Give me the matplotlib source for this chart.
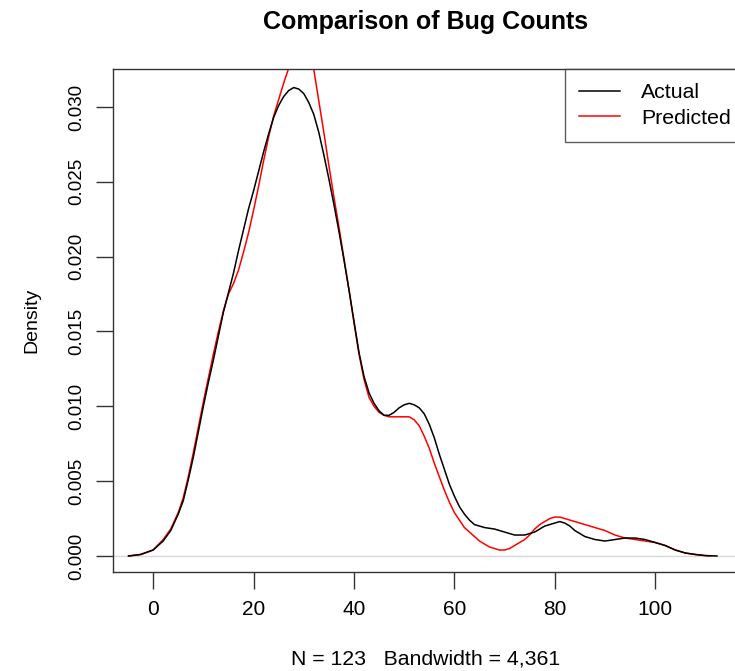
import matplotlib
matplotlib.use("Agg")
import matplotlib.pyplot as plt

# density curves
actual_x = [-4.9, -2.5, 0, 2, 3.5, 5, 6, 7, 8, 9, 10, 11, 12, 13, 14, 15, 16, 17, 18, 19,
            20, 21, 22, 23, 24, 25, 26, 27, 28, 29, 30, 31, 32, 33, 34, 35, 36, 37, 38, 39,
            40, 41, 42, 43, 44, 45, 46, 47, 48, 49, 50, 51, 52, 53, 54, 55, 56, 57, 58, 59,
            60, 61, 62, 63, 64, 65, 66, 67, 68, 69, 70, 71, 72, 73, 74, 75, 76, 77, 78, 79,
            80, 81, 82, 83, 84, 85, 86, 87, 88, 90, 92, 94, 96, 98, 100, 102, 104, 106, 108,
            110, 112.3]
actual_y = [0.0000, 0.0001, 0.0004, 0.0010, 0.0017, 0.0028, 0.0037, 0.0051, 0.0066, 0.0083,
            0.0100, 0.0116, 0.0131, 0.0147, 0.0163, 0.0176, 0.0189, 0.0204, 0.0218, 0.0232,
            0.0244, 0.0257, 0.0270, 0.0282, 0.0293, 0.0301, 0.0307, 0.0311, 0.0313, 0.0312,
            0.0309, 0.0303, 0.0295, 0.0283, 0.0268, 0.0252, 0.0235, 0.0217, 0.0198, 0.0178,
            0.0157, 0.0136, 0.0120, 0.0109, 0.0102, 0.0097, 0.0094, 0.0094, 0.0096, 0.0099,
            0.0101, 0.0102, 0.0101, 0.0099, 0.0095, 0.0088, 0.0079, 0.0068, 0.0058, 0.0048,
            0.0040, 0.0033, 0.0028, 0.0024, 0.0021, 0.0020, 0.0019, 0.00185, 0.0018, 0.0017,
            0.0016, 0.0015, 0.0014, 0.0014, 0.0014, 0.0015, 0.0016, 0.0018, 0.0020, 0.0021,
            0.0022, 0.0023, 0.0022, 0.0020, 0.0017, 0.0015, 0.0013, 0.0012, 0.0011, 0.0010,
            0.0011, 0.0012, 0.0012, 0.0011, 0.0009, 0.0007, 0.0004, 0.0002, 0.0001, 0.00003,
            0.0000]

predicted_x = [-4.9, -2.5, 0, 2, 3.5, 5, 6, 7, 8, 9, 10, 11, 12, 13, 14, 15, 16, 17, 18, 19,
               20, 21, 22, 23, 24, 25, 26, 27, 28, 29, 30, 31, 32, 33, 34, 35, 36, 37, 38, 39,
               40, 41, 42, 43, 44, 45, 46, 47, 48, 49, 50, 51, 52, 53, 54, 55, 56, 57, 58, 59,
               60, 61, 62, 63, 64, 65, 66, 67, 68, 69, 70, 71, 72, 73, 74, 75, 76, 77, 78, 79,
               80, 81, 82, 83, 84, 85, 86, 87, 88, 90, 92, 94, 96, 98, 100, 102, 104, 106, 108,
               110, 111]
predicted_y = [0.0000, 0.0001, 0.0004, 0.0011, 0.0018, 0.0029, 0.0039, 0.0053, 0.0069, 0.0086,
               0.0103, 0.0119, 0.0135, 0.0150, 0.0164, 0.0175, 0.0182, 0.0191, 0.0203, 0.0216,
               0.0231, 0.0247, 0.0264, 0.0280, 0.0294, 0.0305, 0.0316, 0.0326, 0.0336, 0.0341,
               0.0342, 0.0338, 0.0325, 0.0304, 0.0283, 0.0261, 0.0240, 0.0220, 0.0199, 0.0178,
               0.0156, 0.0135, 0.0118, 0.0106, 0.0100, 0.0096, 0.0094, 0.0093, 0.0093, 0.0093,
               0.0093, 0.0093, 0.0091, 0.0087, 0.0080, 0.0072, 0.0062, 0.0053, 0.0044, 0.0036,
               0.0029, 0.0024, 0.0019, 0.0016, 0.0013, 0.0010, 0.0008, 0.0006, 0.0005, 0.0004,
               0.0004, 0.0005, 0.0007, 0.0009, 0.0011, 0.0014, 0.0018, 0.0021, 0.0023, 0.0025,
               0.0026, 0.0026, 0.0025, 0.0024, 0.0023, 0.0022, 0.0021, 0.0020, 0.0019, 0.0017,
               0.0014, 0.0012, 0.0011, 0.0010, 0.0009, 0.0007, 0.0004, 0.0002, 0.0001, 0.00002,
               0.0000]

x_ticks = [0, 20, 40, 60, 80, 100]
y_ticks = [0.000, 0.005, 0.010, 0.015, 0.020, 0.025, 0.030]
y_tick_labels = ["0.000", "0.005", "0.010", "0.015", "0.020", "0.025", "0.030"]

plt.rcParams["font.family"] = ["Liberation Sans", "DejaVu Sans"]

fig = plt.figure(figsize=(7.35, 6.71), dpi=100)
# the R plot is cut off on the right, so the axes run past the figure edge
ax = fig.add_axes([113 / 735, 99 / 671, 626 / 735, 503 / 671])

ax.axhline(0, color="#d9d9d9", lw=1.0, zorder=1)
ax.plot(actual_x, actual_y, color="black", lw=1.1, label="Actual", zorder=3)
ax.plot(predicted_x, predicted_y, color="red", lw=1.1, label="Predicted", zorder=2)

ax.set_xlim(-8.0, 116.7)
ax.set_ylim(-0.00107, 0.03254)

ax.set_xticks(x_ticks)
ax.set_xticklabels([str(t) for t in x_ticks], fontsize=15)
ax.set_yticks(y_ticks)
ax.set_yticklabels(y_tick_labels, rotation=90, va="center", fontsize=13.5)
ax.tick_params(direction="out", length=12, width=1.0, color="#333333", pad=8)
for s in ax.spines.values():
    s.set_color("#333333")
    s.set_linewidth(1.0)

ax.set_title("Comparison of Bug Counts", fontsize=18, fontweight="bold", pad=29)
ax.set_xlabel("N = 123   Bandwidth = 4,361", fontsize=15.3, labelpad=22)
ax.set_ylabel("Density", fontsize=14, labelpad=20)

# legend sticks out past the right edge like the cropped original
leg = ax.legend(loc="upper right", bbox_to_anchor=(1 + 6 / 626, 1),
                borderaxespad=0, fancybox=False,
                edgecolor="#333333", fontsize=15.3, handlelength=1.9,
                handletextpad=1.0, borderpad=0.68, labelspacing=0.3)
leg.get_frame().set_linewidth(1.0)

fig.savefig("out.png", dpi=100)
